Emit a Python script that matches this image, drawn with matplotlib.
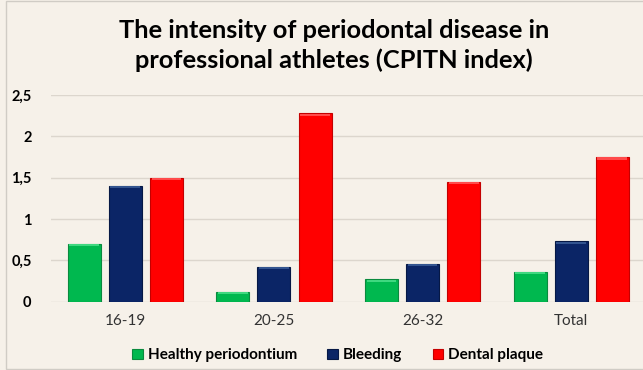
import numpy as np
import matplotlib
matplotlib.use("Agg")
import matplotlib.pyplot as plt
from matplotlib.patches import Rectangle
from matplotlib.ticker import FuncFormatter

# данные
groups = ["16-19", "20-25", "26-32", "Total"]
healthy = [0.70, 0.12, 0.27, 0.36]
bleeding = [1.40, 0.42, 0.46, 0.73]
plaque = [1.50, 2.28, 1.45, 1.75]
series_names = ["Healthy periodontium", "Bleeding", "Dental plaque"]
series_colors = ["#00b84f", "#0b2566", "#ff0000"]
edge_colors = ["#0a8a3e", "#061845", "#c40000"]
top_colors = ["#3fd880", "#33548f", "#ff4a4a"]

bg = "#f6f1e9"
plt.rcParams["font.family"] = ["Lato", "DejaVu Sans"]

fig = plt.figure(figsize=(6.43, 3.70), dpi=100)
fig.patch.set_facecolor(bg)
ax = fig.add_axes([51 / 643, 0.1846, 594.6 / 643, 0.5584])
ax.set_facecolor(bg)

x = np.arange(len(groups))
w = 0.222
step = 0.276
for k, vals in enumerate([healthy, bleeding, plaque]):
    pos = x + (k - 1) * step
    ax.bar(pos, vals, width=w, color=series_colors[k], edgecolor=edge_colors[k],
           linewidth=0.8, label=series_names[k], zorder=3)
    # светлая фаска сверху
    ax.bar(pos, [0.025] * len(vals), bottom=np.array(vals) - 0.03, width=w * 0.9,
           color=top_colors[k], linewidth=0, zorder=4)

ax.set_xlim(-0.5, 3.5)
ax.set_ylim(0, 2.5)
ax.set_yticks([0, 0.5, 1, 1.5, 2, 2.5])
ax.yaxis.set_major_formatter(FuncFormatter(lambda v, p: ("%g" % v).replace(".", ",")))
ax.set_xticks(x)
ax.set_xticklabels(groups)
ax.tick_params(axis="both", length=0)
ax.tick_params(axis="x", labelsize=11, pad=9, colors="#333333")
ax.tick_params(axis="y", labelsize=10.5, pad=14)
for t in ax.get_yticklabels():
    t.set_fontweight("bold")
ax.grid(axis="y", color="#dcd6cd", linewidth=1, zorder=0)
for s in ax.spines.values():
    s.set_visible(False)

fig.text(0.519, 0.877, "The intensity of periodontal disease in\nprofessional athletes (CPITN index)",
         ha="center", va="center", fontsize=18.3, fontweight="bold", linespacing=1.3)

leg = fig.legend(loc="center", bbox_to_anchor=(0.525, 0.04), ncol=3, frameon=False,
                 handlelength=0.7, handleheight=0.7, handletextpad=0.3,
                 columnspacing=2.0, prop={"weight": "bold", "size": 11})

fig.patches.append(Rectangle((0.01, 0.004), 1.2, 0.992, transform=fig.transFigure,
                             fill=False, edgecolor="#d0ccc5", linewidth=1))

fig.savefig("out.png", dpi=100, facecolor=bg)
